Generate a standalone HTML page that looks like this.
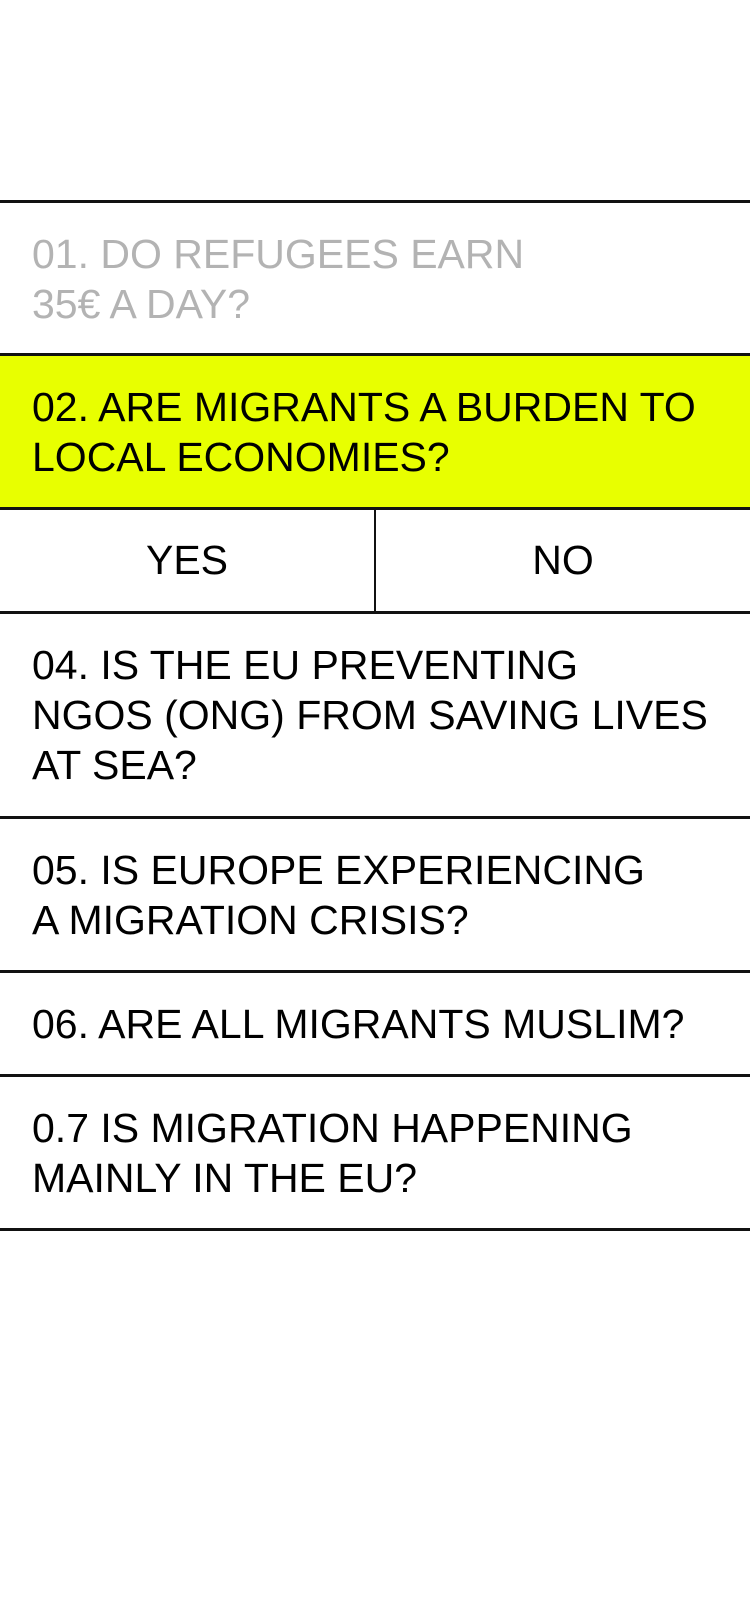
<!DOCTYPE html>
<html><head><meta charset="utf-8">
<style>
html,body{margin:0;padding:0;background:#fff;}
body{width:750px;height:1624px;position:relative;overflow:hidden;font-family:"Liberation Sans",sans-serif;}
.row{position:absolute;left:0;width:750px;box-sizing:border-box;display:flex;align-items:center;padding-left:32px;font-size:41px;line-height:50px;letter-spacing:0px;color:#000;}
.line{position:absolute;left:0;width:750px;height:3px;background:#111;}
.half{position:absolute;display:flex;align-items:center;justify-content:center;font-size:41px;letter-spacing:0px;}
</style></head><body>
<div class="line" style="top:200px"></div>
<div class="row" style="top:203px;height:151px;color:#b3b3b3">01. DO REFUGEES EARN<br>35€ A DAY?</div>
<div class="line" style="top:353px"></div>
<div class="row" style="top:356px;height:151px;background:#e8ff00">02. ARE MIGRANTS A BURDEN TO<br>LOCAL ECONOMIES?</div>
<div class="line" style="top:507px"></div>
<div class="half" style="top:510px;left:0;width:374px;height:101px">YES</div>
<div style="position:absolute;left:374px;top:510px;width:2px;height:101px;background:#111"></div>
<div class="half" style="top:510px;left:376px;width:374px;height:101px">NO</div>
<div class="line" style="top:611px"></div>
<div class="row" style="top:614px;height:202px">04. IS THE EU PREVENTING<br>NGOS (ONG) FROM SAVING LIVES<br>AT SEA?</div>
<div class="line" style="top:816px"></div>
<div class="row" style="top:819px;height:152px">05. IS EUROPE EXPERIENCING<br>A MIGRATION CRISIS?</div>
<div class="line" style="top:970px"></div>
<div class="row" style="top:973px;height:101px">06. ARE ALL MIGRANTS MUSLIM?</div>
<div class="line" style="top:1074px"></div>
<div class="row" style="top:1077px;height:152px">0.7 IS MIGRATION HAPPENING<br>MAINLY IN THE EU?</div>
<div class="line" style="top:1228px"></div>
</body></html>
